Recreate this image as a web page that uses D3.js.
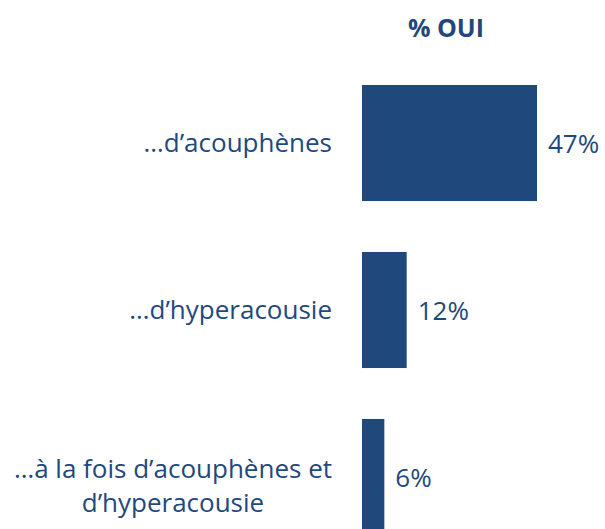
<!DOCTYPE html>
<html><head><meta charset="utf-8">
<script src="https://cdn.jsdelivr.net/npm/d3@7"></script>
<style>body{margin:0;background:#fff}svg{display:block}</style>
</head><body>
<script>
const categories = [["…d’acouphènes"], ["…d’hyperacousie"], ["…à la fois d’acouphènes et", "d’hyperacousie"]];
const values = [47, 12, 6];
const title = "% OUI";

const W = 605, H = 529;
const color = "#1F497D";
const font = "'Open Sans', sans-serif";
const svg = d3.select("body").append("svg").attr("width", W).attr("height", H);

const x = d3.scaleLinear().domain([0, 47]).range([362, 537]);
const y = d3.scaleBand().domain(d3.range(categories.length)).range([85, 535]).paddingInner(0.305).paddingOuter(0);

svg.append("text").attr("x", 446).attr("y", 37).attr("text-anchor", "middle")
  .attr("font-family", font).attr("font-weight", "bold").attr("font-size", 25).attr("fill", color).text(title);

svg.selectAll("rect.bar").data(values).join("rect").attr("class", "bar")
  .attr("x", x(0)).attr("y", (d, i) => y(i)).attr("width", d => x(d) - x(0)).attr("height", y.bandwidth())
  .attr("fill", color);

svg.selectAll("text.val").data(values).join("text").attr("class", "val")
  .attr("x", d => x(d) + 11).attr("y", (d, i) => y(i) + y.bandwidth() / 2 + 10)
  .attr("font-family", font).attr("font-size", 26).attr("fill", color).text(d => d + "%");

categories.forEach((lines, i) => {
  const g = svg.append("g");
  const cy = y(i) + y.bandwidth() / 2;
  const lh = 34;
  const shift = lines.length > 1 ? 9 : 0;
  const texts = lines.map((l, j) => g.append("text")
    .attr("y", cy + 9 + shift + (j - (lines.length - 1) / 2) * lh)
    .attr("font-family", font).attr("font-size", 26).attr("fill", color).text(l));
  const widths = texts.map(t => t.node().getComputedTextLength());
  const maxW = d3.max(widths);
  const right = 332;
  texts.forEach((t, j) => t.attr("x", right - maxW / 2).attr("text-anchor", "middle"));
});
</script>
</body></html>
